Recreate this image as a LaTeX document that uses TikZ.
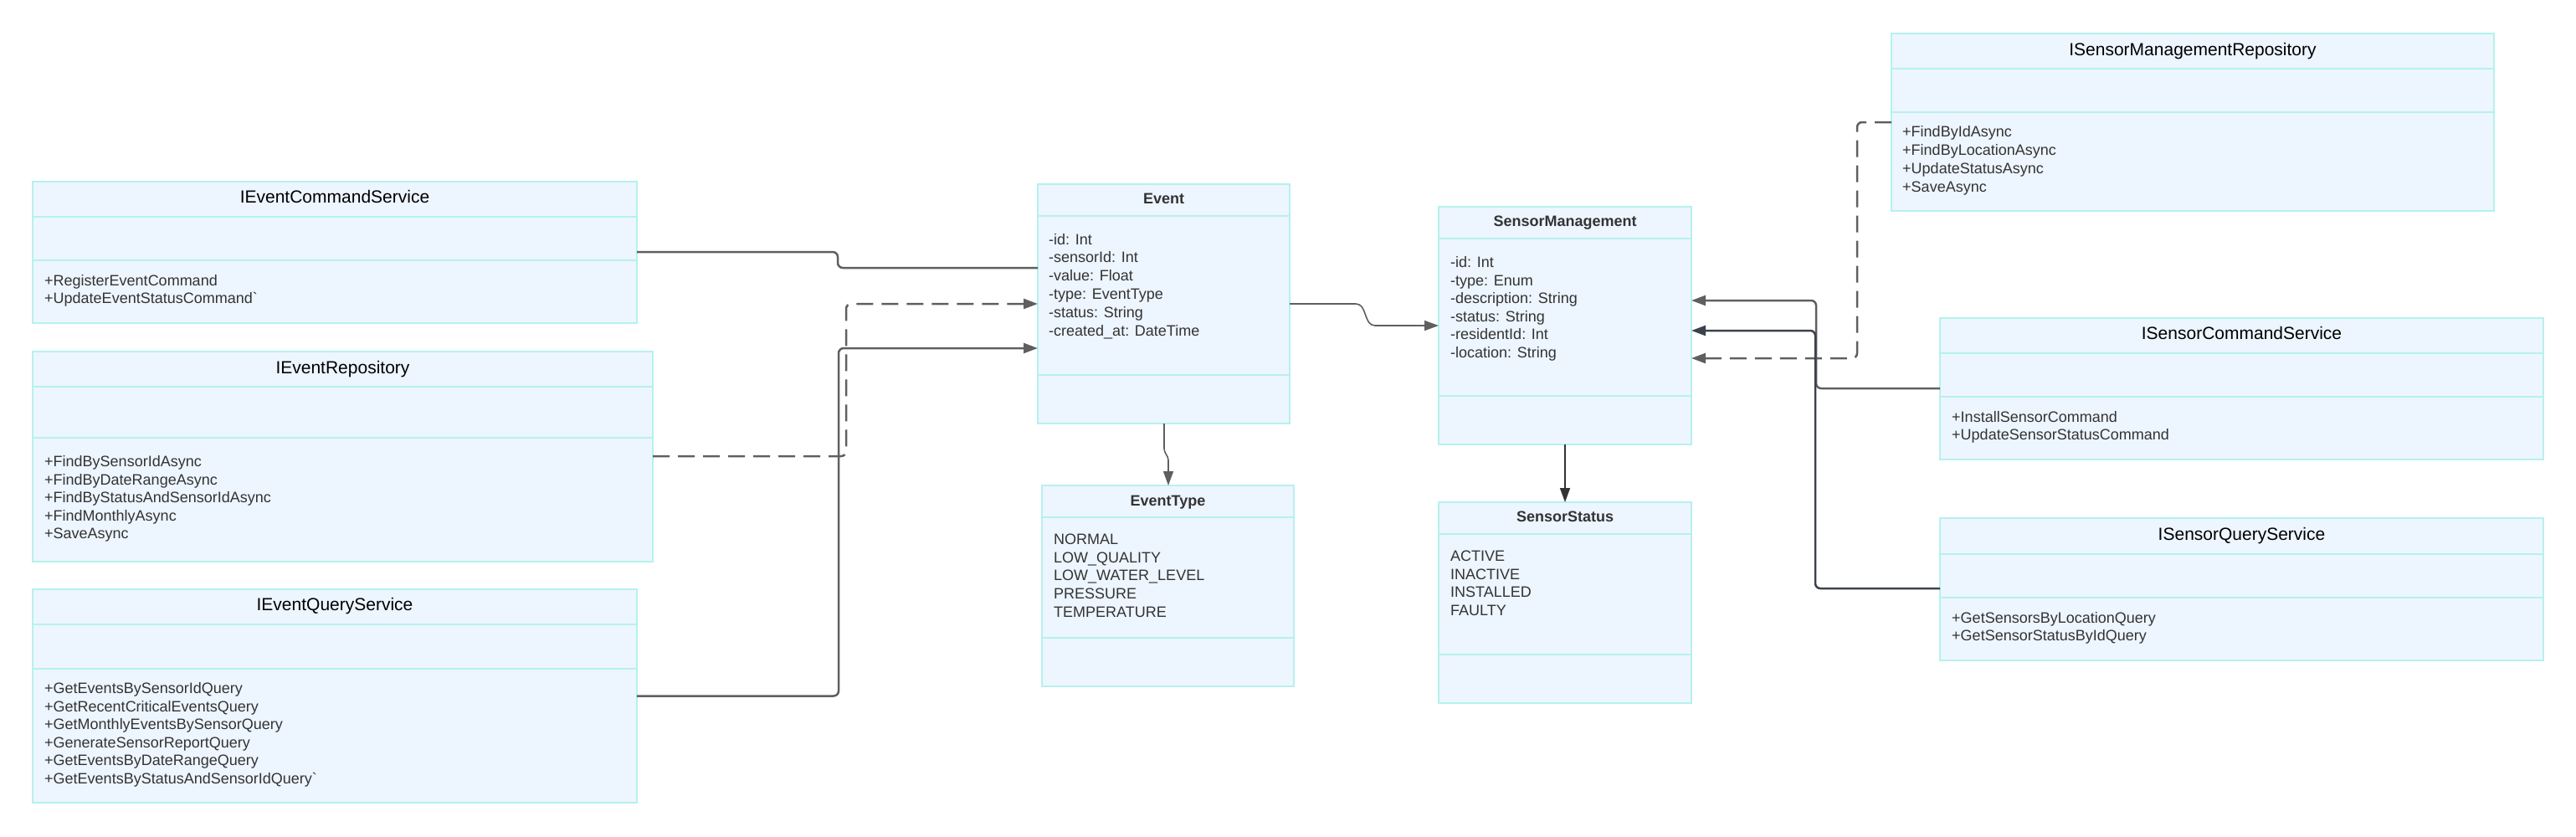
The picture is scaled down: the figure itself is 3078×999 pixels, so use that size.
\documentclass[tikz,border=0pt]{standalone}
\usepackage{fontspec}
\setmainfont{Liberation Sans}[Ligatures=TeXOff]
\usetikzlibrary{arrows.meta}
\definecolor{boxfill}{HTML}{EDF5FF}
\definecolor{boxline}{HTML}{B5F2EC}
\definecolor{conn}{HTML}{5F5F5F}
\definecolor{conndark}{HTML}{3C424C}
\definecolor{txt}{HTML}{333333}
\newcommand\umlclass[7]{%
  \node[umlbox, minimum width={#4-#2}, minimum height={#5-#3}] (#1) at (#2,#3) {};
  \draw[divline] (#2,#6) -- (#4,#6) (#2,#7) -- (#4,#7);
}
\newcommand\umlitems[5]{%
  \foreach \t [count=\i] in {#5} {\node[item] (#1-\i) at (#2, {#3+(\i-1)*#4}) {\t};}%
}
\begin{document}
\begin{tikzpicture}[x=1pt,y=-1pt,
  umlbox/.style={draw=boxline, fill=boxfill, line width=2pt, inner sep=0pt, outer sep=0pt, anchor=north west},
  divline/.style={draw=boxline, line width=2pt},
  ititle/.style={font=\fontsize{21}{25}\selectfont, text=black, anchor=base, inner sep=0pt},
  ctitle/.style={font=\bfseries\fontsize{18}{22}\selectfont, text=txt, anchor=base, inner sep=0pt},
  item/.style={font=\fontsize{18}{22}\selectfont, text=txt, anchor=base west, inner sep=0pt},
  conline/.style={draw=conn, line width=2.5pt, rounded corners=6pt},
  thinline/.style={draw=conn, line width=1.6pt, rounded corners=4pt},
  tip/.style={-{Triangle[length=17pt,width=12pt]}},
  dashpat/.style={dash pattern=on 20pt off 10pt},
]
\useasboundingbox (0,0) rectangle (3078,999);

% ---- boxes ----
\umlclass{ecs}{39}{217}{761}{386}{259}{311}
\node[ititle] (ecs-t) at (400,242.5) {IEventCommandService};
\umlitems{ecs}{53}{341.4}{21.5}{+RegisterEventCommand,+UpdateEventStatusCommand`}

\umlclass{ier}{39}{420}{780}{671}{462}{523}
\node[ititle] (ier-t) at (409.5,446) {IEventRepository};
\umlitems{ier}{53}{557.4}{21.6}{+FindBySensorIdAsync,+FindByDateRangeAsync,+FindByStatusAndSensorIdAsync,+FindMonthlyAsync,+SaveAsync}

\umlclass{ieqs}{39}{704}{761}{959}{746}{798.5}
\node[ititle] (ieqs-t) at (400,729.5) {IEventQueryService};
\umlitems{ieqs}{53}{828.4}{21.6}{+GetEventsBySensorIdQuery,+GetRecentCriticalEventsQuery,+GetMonthlyEventsBySensorQuery,+GenerateSensorReportQuery,+GetEventsByDateRangeQuery,+GetEventsByStatusAndSensorIdQuery`}

\umlclass{event}{1240}{220}{1541}{506}{258}{448}
\node[ctitle] (event-t) at (1390.5,243) {Event};
\umlitems{event}{1253}{292}{21.9}{-id: Int,-sensorId: Int,-value: Float,-type: EventType,-status: String,-created\_at: DateTime}

\umlclass{etype}{1245}{580}{1546}{820}{618}{762}
\node[ctitle] (etype-t) at (1395.5,604) {EventType};
\umlitems{etype}{1259}{650.4}{21.7}{NORMAL,LOW\_QUALITY,LOW\_WATER\_LEVEL,PRESSURE,TEMPERATURE}

\umlclass{sm}{1719}{247}{2021}{531}{285}{473}
\node[ctitle] (sm-t) at (1870,270) {SensorManagement};
\umlitems{sm}{1733}{319.4}{21.6}{-id: Int,-type: Enum,-description: String,-status: String,-residentId: Int,-location: String}

\umlclass{ss}{1719}{600}{2021}{840}{638}{782}
\node[ctitle] (ss-t) at (1870,623.4) {SensorStatus};
\umlitems{ss}{1733}{670.4}{21.7}{ACTIVE,INACTIVE,INSTALLED,FAULTY}

\umlclass{ismr}{2260}{40}{2980}{252}{82}{134}
\node[ititle] (ismr-t) at (2620,66.5) {ISensorManagementRepository};
\umlitems{ismr}{2273}{163.7}{21.8}{+FindByIdAsync,+FindByLocationAsync,+UpdateStatusAsync,+SaveAsync}

\umlclass{iscs}{2318}{380}{3039}{549}{422}{474}
\node[ititle] (iscs-t) at (2678.5,405.5) {ISensorCommandService};
\umlitems{iscs}{2332}{504.1}{21.6}{+InstallSensorCommand,+UpdateSensorStatusCommand}

\umlclass{isqs}{2318}{619}{3039}{789}{662}{714}
\node[ititle] (isqs-t) at (2678.5,645.8) {ISensorQueryService};
\umlitems{isqs}{2332}{744.7}{21}{+GetSensorsByLocationQuery,+GetSensorStatusByIdQuery}

% ---- connectors ----
\draw[conline] (ecs.east |- 0,301) -- (1001,301) -- (1001,320) -- (event.west |- 0,320);
\draw[conline, dashpat, tip] (ier.east |- 0,545) -- (1011,545) -- (1011,363) -- (event.west |- 0,363);
\draw[conline, tip] (ieqs.east |- 0,831.5) -- (1002,831.5) -- (1002,416) -- (event.west |- 0,416);

\draw[thinline, tip] (event.south -| 1391,0) -- (1391,540) -- (1396,546) -- (etype.north -| 1396,0);
\draw[thinline, tip, rounded corners=0pt] (event.east |- 0,363) -- (1620,363)
  .. controls (1634,363) and (1629,389) .. (1643,389) -- (sm.west |- 0,389);
\draw[thinline, draw=black!80, tip] (sm.south -| 1870,0) -- (ss.north -| 1870,0);

\draw[conline, dashpat, tip] (ismr.west |- 0,146) -- (2219,146) -- (2219,428) -- (sm.east |- 0,428);
\draw[conline, tip] (iscs.west |- 0,464) -- (2170,464) -- (2170,359) -- (sm.east |- 0,359);
\draw[conline, draw=conndark, tip] (isqs.west |- 0,703) -- (2169,703) -- (2169,395) -- (sm.east |- 0,395);
\end{tikzpicture}
\end{document}
